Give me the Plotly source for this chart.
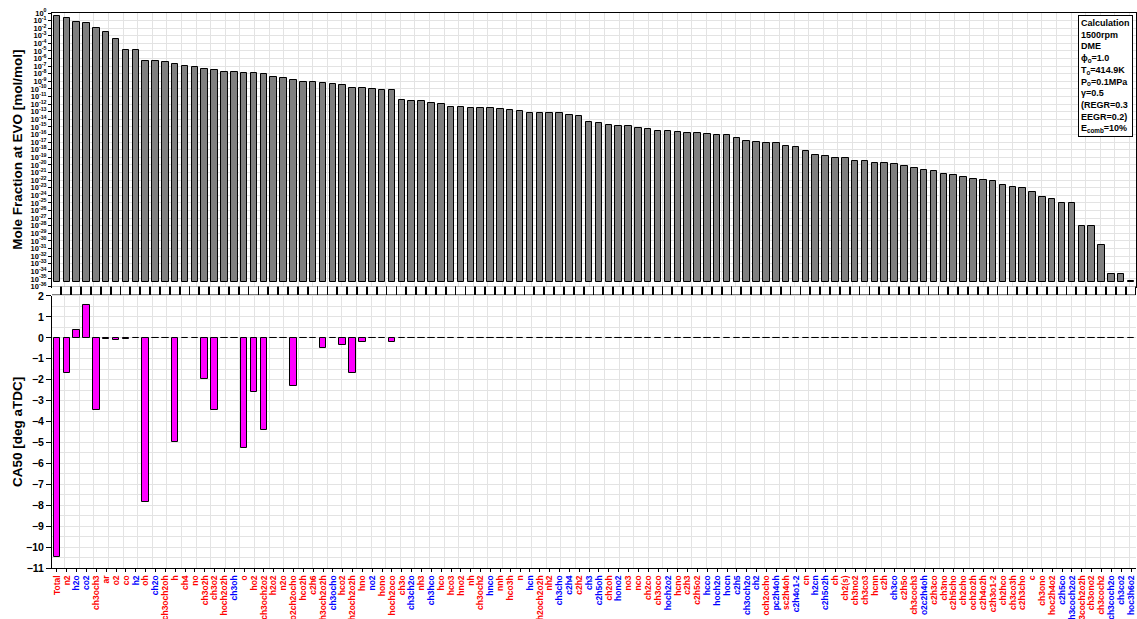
import plotly.graph_objects as go

FONT = "Liberation Sans, Arial, Helvetica, sans-serif"
RED = "#ff0000"
BLUE = "#0000ff"
GRID = "#e3e3e3"

# Species, ordered by mole fraction at EVO
species = [
    "Total", "n2", "h2o", "co2", "ch3och3", "ar", "o2", "co", "h2", "oh",
    "ch2o", "ch3och2oh", "h", "ch4", "no", "ch3o2h", "ch3o2", "hoch2o2h", "ch3oh", "o",
    "ho2", "ch3och2o2", "h2o2", "n2o", "ho2ch2ocho", "hco2h", "c2h6", "ch3och2o2h", "ch3ocho", "hco2",
    "ch2och2o2h", "hno", "no2", "hono", "hoch2oco", "ch3o", "ch3ch2o", "nh3", "ch3hco", "hco",
    "hco3", "hno2", "nh", "ch3och2", "hnco", "nnh", "hco3h", "n", "hcn", "o2ch2och2o2h",
    "nh2", "ch3cho", "c2h4", "c2h2", "ch3", "c2h5oh", "ch2oh", "hono2", "no3", "nco",
    "ch2co", "ch3oco", "hoch2o2", "hcno", "c2h3", "c2h5o2", "hcco", "hoch2o", "hocn", "c2h5",
    "ch3och2o", "ch2", "och2ocho", "pc2h4oh", "sc2h4oh", "c2h4o1-2", "cn", "h2cn", "c2h5o2h", "ch",
    "ch2(s)", "ch3no2", "ch3co3", "hcnn", "c2h", "ch3co", "c2h5o", "ch3coch3", "o2c2h4oh", "c2h3co",
    "ch3no", "c2h5cho", "ch2cho", "och2o2h", "c2h4o2h", "c2h3o1-2", "ch2hco", "ch3co3h", "c2h3cho", "c",
    "ch3ono", "hoc2h4o2", "c2h5co", "ch3coch2o2", "ch3coch2o2h", "ch3ono2", "ch3coch2", "ch3coch2o", "ch3co2", "hoc3h6o2",
]

# Label colour group of each species (r = red, b = blue)
species_group = [
    "r", "r", "b", "b", "r", "r", "r", "r", "b", "r",
    "b", "r", "r", "r", "r", "r", "r", "r", "b", "r",
    "r", "r", "r", "r", "r", "r", "r", "r", "b", "r",
    "r", "r", "b", "r", "r", "r", "b", "r", "b", "r",
    "r", "r", "r", "r", "b", "r", "r", "r", "b", "r",
    "r", "b", "b", "r", "b", "b", "r", "b", "r", "r",
    "r", "r", "b", "r", "r", "r", "b", "b", "b", "b",
    "b", "b", "r", "b", "r", "b", "r", "b", "b", "r",
    "r", "r", "r", "r", "r", "b", "r", "r", "b", "r",
    "r", "r", "r", "r", "r", "r", "r", "r", "r", "r",
    "r", "r", "b", "b", "r", "r", "r", "b", "b", "b",
]

# Mole fraction at EVO [mol/mol]
mole_fraction = [
    3.6e-01, 2.4e-01, 5.9e-02, 4.4e-02, 1.0e-02, 2.75e-03, 3.6e-04, 1.38e-05, 1.26e-05, 5.4e-07,
    4.4e-07, 3.2e-07, 2.2e-07, 1.17e-07, 7.8e-08, 4.8e-08, 3.1e-08, 1.9e-08, 1.85e-08, 1.4e-08,
    1.12e-08, 9.1e-09, 4.2e-09, 3.1e-09, 1.66e-09, 8.9e-10, 7.2e-10, 5.9e-10, 4.9e-10, 2.9e-10,
    1.45e-10, 1.17e-10, 1.15e-10, 7.8e-11, 7.1e-11, 3.6e-12, 2.45e-12, 2.4e-12, 1.6e-12, 1.1e-12,
    3.9e-13, 3.85e-13, 3.2e-13, 2.9e-13, 2.85e-13, 2.1e-13, 1.6e-13, 1.15e-13, 7.1e-14, 6.3e-14,
    6.3e-14, 6.2e-14, 4.2e-14, 3.1e-14, 5.0e-15, 3.3e-15, 2.0e-15, 1.5e-15, 1.2e-15, 7.2e-16,
    5.9e-16, 2.9e-16, 2.6e-16, 2.1e-16, 1.74e-16, 1.7e-16, 1.02e-16, 9.3e-17, 9.2e-17, 3.5e-17,
    1.5e-17, 1.02e-17, 7.4e-18, 7.3e-18, 3.6e-18, 2.6e-18, 7.8e-19, 1.9e-19, 1.7e-19, 8.5e-20,
    7.8e-20, 3.7e-20, 2.9e-20, 2.1e-20, 1.6e-20, 1.17e-20, 6.3e-21, 4.0e-21, 2.2e-21, 1.4e-21,
    7.4e-22, 4.1e-22, 2.6e-22, 1.6e-22, 1.0e-22, 7.6e-23, 2.6e-23, 1.2e-23, 8.9e-24, 2.6e-24,
    5.8e-25, 3.2e-25, 9.3e-26, 9.2e-26, 8.3e-29, 8.2e-29, 2.5e-31, 3.6e-35, 3.6e-35, 1.5e-36,
]

# CA50 shift [deg aTDC]
ca50_shift = [
    -10.45, -1.70, 0.37, 1.57, -3.47, -0.06, -0.08, -0.04, -0.03, -7.83,
    -0.03, -0.03, -4.96, -0.03, -0.03, -1.97, -3.45, -0.03, -0.03, -5.27,
    -2.59, -4.41, -0.03, -0.03, -2.31, -0.03, -0.03, -0.50, -0.03, -0.35,
    -1.68, -0.22, -0.03, -0.03, -0.20, -0.03, -0.03, -0.03, -0.03, -0.03,
    -0.03, -0.03, -0.03, -0.03, -0.03, -0.03, -0.03, -0.03, -0.03, -0.03,
    -0.03, -0.03, -0.03, -0.03, -0.03, -0.03, -0.03, -0.03, -0.03, -0.03,
    -0.03, -0.03, -0.03, -0.03, -0.03, -0.03, -0.03, -0.03, -0.03, -0.03,
    -0.03, -0.03, -0.03, -0.03, -0.03, -0.03, -0.03, -0.03, -0.03, -0.03,
    -0.03, -0.03, -0.03, -0.03, -0.03, -0.03, -0.03, -0.03, -0.03, -0.03,
    -0.03, -0.03, -0.03, -0.03, -0.03, -0.03, -0.03, -0.03, -0.03, -0.03,
    -0.03, -0.03, -0.03, -0.03, -0.03, -0.03, -0.03, -0.03, -0.03, -0.03,
]

# Decades shown on the mole-fraction axis
decade_exponents = list(range(0, -37, -1))

# Operating conditions box
conditions = [
    "Calculation", "1500rpm", "DME", "ϕ<sub>o</sub>=1.0", "T<sub>o</sub>=414.9K",
    "P<sub>o</sub>=0.1MPa", "γ=0.5", "(REGR=0.3", "EEGR=0.2)", "E<sub>comb</sub>=10%",
]

n = len(species)
idx = list(range(n))
xr = [-0.5, n - 0.5]
colour_of = {"r": RED, "b": BLUE}
tick_text = [f"<span style='color:{colour_of[g]}'>{s}</span>" for s, g in zip(species, species_group)]

TOP_DOM = [0.5072, 1.0]
STRIP_DOM = [0.4915, 0.5072]
BOT_DOM = [0.0, 0.4901]

fig = go.Figure()

# Mole fraction bars (log scale)
fig.add_trace(go.Bar(
    x=idx, y=mole_fraction, base=10 ** -35.45, width=0.66,
    marker=dict(color="#808080", line=dict(color="black", width=1)),
    xaxis="x", yaxis="y", showlegend=False, hoverinfo="skip",
))
# Row of empty cells between the panels
fig.add_trace(go.Bar(
    x=idx, y=[1] * n, width=0.92,
    marker=dict(color="white", line=dict(color="black", width=1)),
    xaxis="x2", yaxis="y2", showlegend=False, hoverinfo="skip",
))
# CA50 sensitivity bars
fig.add_trace(go.Bar(
    x=idx, y=ca50_shift, width=0.66,
    marker=dict(color="#ff00ff", line=dict(color="black", width=1)),
    xaxis="x3", yaxis="y3", showlegend=False, hoverinfo="skip",
))
# Carriers for the vertical grid axes
fig.add_trace(go.Scatter(x=[None], y=[None], xaxis="x4", yaxis="y", showlegend=False, hoverinfo="skip"))
fig.add_trace(go.Scatter(x=[None], y=[None], xaxis="x5", yaxis="y3", showlegend=False, hoverinfo="skip"))

vgrid = dict(range=xr, tickmode="linear", tick0=0.8, dtick=1.48, showgrid=True, gridcolor=GRID,
             gridwidth=1, showticklabels=False, ticks="", showline=False, zeroline=False)

fig.update_layout(
    width=1137, height=619, autosize=False,
    margin=dict(l=52, r=1, t=13, b=51),
    paper_bgcolor="white", plot_bgcolor="white",
    font=dict(family=FONT, color="black"),
    bargap=0,
    xaxis=dict(domain=[0, 1], anchor="y", range=xr, showticklabels=False, ticks="",
               showgrid=False, showline=True, linecolor="black", linewidth=1, mirror=True,
               zeroline=False),
    yaxis=dict(domain=TOP_DOM, anchor="x", type="log", range=[-36, 0],
               tickmode="array", tickvals=[10 ** e for e in decade_exponents],
               ticktext=[f"10<sup>{e}</sup>" for e in decade_exponents],
               tickfont=dict(size=7.5, weight="bold"), ticks="outside", ticklen=3,
               tickcolor="black", showgrid=True, gridcolor=GRID, showline=True,
               linecolor="black", linewidth=1, mirror=True, zeroline=False, automargin=False),
    xaxis4=dict(overlaying="x", anchor="y", **vgrid),
    xaxis2=dict(domain=[0, 1], anchor="y2", range=xr, visible=False),
    yaxis2=dict(domain=STRIP_DOM, anchor="x2", range=[0, 1], visible=False),
    xaxis3=dict(domain=[0, 1], anchor="y3", range=xr, tickmode="array", tickvals=idx,
                ticktext=tick_text, tickangle=-90, tickfont=dict(size=8.5, weight="bold"),
                ticks="outside", ticklen=3, tickcolor="black", showgrid=False,
                showline=True, linecolor="black", linewidth=1, zeroline=False, automargin=False),
    yaxis3=dict(domain=BOT_DOM, anchor="x3", range=[-11, 2], tickmode="linear", tick0=0,
                dtick=1, tickfont=dict(size=10.5, weight="bold"), ticks="outside", ticklen=5,
                tickcolor="black", showgrid=True, gridcolor=GRID,
                minor=dict(dtick=0.5, showgrid=True, gridcolor=GRID),
                showline=True, linecolor="black", linewidth=1, zeroline=False, automargin=False),
    xaxis5=dict(overlaying="x3", anchor="y3", **vgrid),
)

fig.add_annotation(
    text="Mole Fraction at EVO [mol/mol]", xref="paper", yref="paper",
    x=0, xshift=-34, y=sum(TOP_DOM) / 2, xanchor="center", yanchor="middle",
    textangle=-90, showarrow=False, font=dict(size=13.5, weight="bold"),
)
fig.add_annotation(
    text="CA50 [deg aTDC]", xref="paper", yref="paper",
    x=0, xshift=-34, y=sum(BOT_DOM) / 2, xanchor="center", yanchor="middle",
    textangle=-90, showarrow=False, font=dict(size=13.5, weight="bold"),
)
fig.add_annotation(
    text="<br>".join(conditions), xref="paper", yref="paper",
    x=1, xshift=-3, y=1, yshift=-2, xanchor="right", yanchor="top", align="left",
    showarrow=False, bgcolor="white", bordercolor="black", borderwidth=1, borderpad=2,
    font=dict(size=9, weight="bold"),
)

fig.write_html("out.html")
